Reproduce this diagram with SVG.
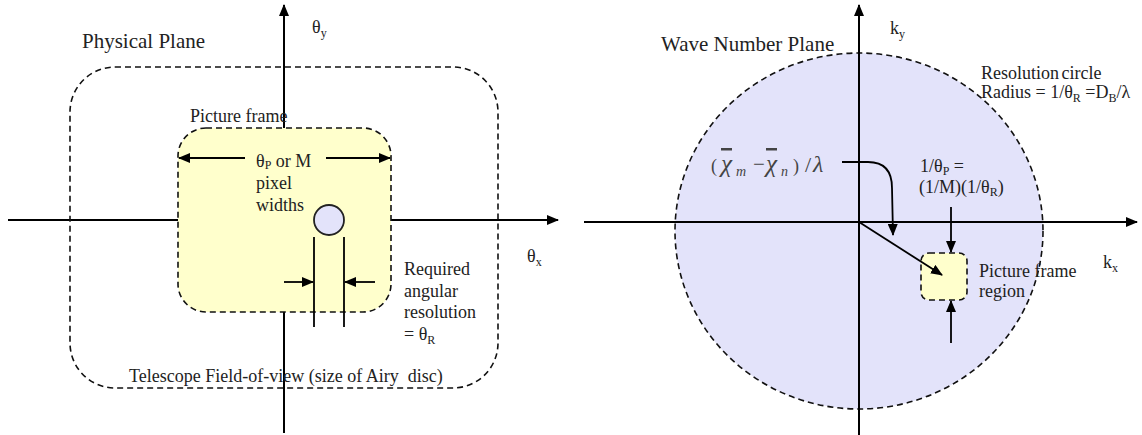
<svg xmlns="http://www.w3.org/2000/svg" width="1142" height="435" viewBox="0 0 1142 435">
<style>
text{font-family:"Liberation Serif","DejaVu Serif",serif;font-size:18px;fill:#222}
.title{font-size:21px}
.sub{font-size:12px}
.ax{stroke:#000;stroke-width:2;fill:none}
.ln{stroke:#000;stroke-width:1.8;fill:none}
.dash{stroke:#111;stroke-width:1.6;stroke-dasharray:6 4}
.eq{fill:#444}
.it{font-style:italic}
.ov{text-decoration:overline}
</style>
<defs>
<marker id="ah" markerUnits="userSpaceOnUse" markerWidth="12" markerHeight="10" refX="11" refY="5" orient="auto">
<path d="M0,0 L12,5 L0,10 z" fill="#000"/>
</marker>
</defs>
<rect width="1142" height="435" fill="#fff"/>

<!-- LEFT PANEL -->
<g id="left-axes" class="connectors">
<line class="ax" x1="284" y1="433" x2="284" y2="5" marker-end="url(#ah)"/>
<line class="ax" x1="8" y1="220" x2="558" y2="220" marker-end="url(#ah)"/>
</g>
<g id="field-of-view">
<rect class="dash" x="70" y="67" width="428" height="321" rx="45" fill="none"/>
<text x="129" y="382">Telescope Field-of-view (size of Airy&#160; disc)</text>
</g>
<g id="picture-frame">
<rect class="dash" x="178" y="128" width="213" height="184" rx="28" fill="#FFFFCC"/>
<text x="190" y="122">Picture frame</text>
</g>
<g id="pixel-width">
<line class="ln" x1="245" y1="158" x2="179" y2="158" marker-end="url(#ah)"/>
<line class="ln" x1="326" y1="158" x2="390" y2="158" marker-end="url(#ah)"/>
<text x="256" y="167">θ<tspan class="sub" dy="2">P</tspan><tspan dy="-2"> or M</tspan></text>
<text x="256" y="189">pixel</text>
<text x="256" y="211">widths</text>
</g>
<g id="airy-disc">
<circle cx="329" cy="220" r="15" fill="#E3E3FA" stroke="#222" stroke-width="1.8"/>
<line class="ln" x1="314" y1="237" x2="314" y2="327"/>
<line class="ln" x1="344" y1="237" x2="344" y2="327"/>
<line class="ln" x1="284" y1="282" x2="313" y2="282" marker-end="url(#ah)"/>
<line class="ln" x1="375" y1="282" x2="345" y2="282" marker-end="url(#ah)"/>
</g>
<g id="left-labels">
<text class="title" x="82" y="48">Physical Plane</text>
<text x="312" y="33">θ<tspan class="sub" dy="4">y</tspan></text>
<text x="527" y="262">θ<tspan class="sub" dy="4">x</tspan></text>
<text x="404" y="275">Required</text>
<text x="404" y="297">angular</text>
<text x="404" y="318">resolution</text>
<text x="404" y="340">= θ<tspan class="sub" dy="4">R</tspan></text>
</g>

<!-- RIGHT PANEL -->
<g id="resolution-circle">
<ellipse class="dash" cx="859" cy="231" rx="184" ry="178" fill="#E3E3FA"/>
<text x="981" y="79" word-spacing="-2">Resolution circle</text>
<text x="981" y="98">Radius = 1/θ<tspan class="sub" dy="4">R</tspan><tspan dy="-4"> =D</tspan><tspan class="sub" dy="4">B</tspan><tspan dy="-4">/λ</tspan></text>
</g>
<g id="right-axes" class="connectors">
<line class="ax" x1="859" y1="435" x2="859" y2="5" marker-end="url(#ah)"/>
<line class="ax" x1="584" y1="222" x2="1137" y2="222" marker-end="url(#ah)"/>
</g>
<g id="picture-frame-region">
<rect class="dash" x="921" y="253" width="46" height="47" rx="8" fill="#FFFFCC"/>
<text x="979" y="277">Picture frame</text>
<text x="979" y="297">region</text>
</g>
<g id="right-connectors">
<line class="ln" x1="859" y1="222" x2="942" y2="275" marker-end="url(#ah)"/>
<path class="ln" d="M842,162 H868 Q892,162 892,188 L893,235" marker-end="url(#ah)"/>
<line class="ln" x1="951" y1="207" x2="951" y2="252" marker-end="url(#ah)"/>
<line class="ln" x1="951" y1="343" x2="951" y2="301" marker-end="url(#ah)"/>
</g>
<g id="right-labels">
<text class="title" x="661" y="51">Wave Number Plane</text>
<text x="890" y="34">k<tspan class="sub" dy="4">y</tspan></text>
<text x="1103" y="268">k<tspan class="sub" dy="4">x</tspan></text>
<text x="920" y="172">1/θ<tspan class="sub" dy="3">P</tspan><tspan dy="-3"> =</tspan></text>
<text x="919" y="193">(1/M)(1/θ<tspan class="sub" dy="3">R</tspan><tspan dy="-3">)</tspan></text>
<text id="formula" class="eq" font-size="27"><tspan x="711" y="172">(</tspan><tspan class="it ov" x="721" y="172" font-size="25">χ</tspan><tspan class="it" x="736" y="176" font-size="14">m</tspan><tspan x="753" y="171" font-size="21">−</tspan><tspan class="it ov" x="766" y="172" font-size="25">χ</tspan><tspan class="it" x="781" y="176" font-size="14">n</tspan><tspan x="793" y="172">)</tspan><tspan x="805" y="172" font-size="22">/</tspan><tspan class="it" x="813" y="172" font-size="24">λ</tspan></text>
</g>
</svg>
